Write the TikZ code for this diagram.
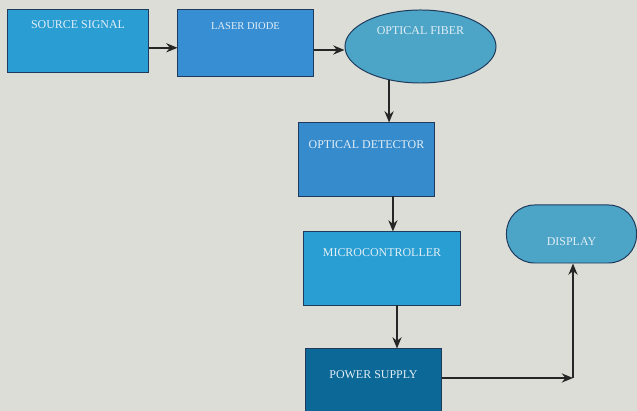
\documentclass[tikz,border=0pt]{standalone}
\usepackage{fontspec}
\setmainfont{Liberation Serif}
\usetikzlibrary{arrows.meta,calc,shapes.geometric}

\definecolor{paper}{RGB}{220,221,215}
\definecolor{edge}{RGB}{32,58,92}
\definecolor{srcblue}{RGB}{42,158,210}
\definecolor{lsrblue}{RGB}{56,142,210}
\definecolor{fibblue}{RGB}{76,165,198}
\definecolor{detblue}{RGB}{54,139,205}
\definecolor{mcublue}{RGB}{40,158,210}
\definecolor{pwrblue}{RGB}{12,104,150}
\definecolor{dspblue}{RGB}{76,164,198}
\definecolor{lbltext}{RGB}{226,238,246}
\definecolor{wire}{RGB}{38,38,38}

\tikzset{
  blk/.style={draw=edge, line width=0.7pt, inner sep=0pt, text=lbltext,
    font=\fontsize{8.5}{9}\selectfont},
  wireto/.style={draw=wire, line width=1.2pt, -{Stealth[length=8pt,width=6.5pt]}},
}

\begin{document}
\begin{tikzpicture}[x=0.025cm, y=-0.025cm]
                \fill [paper] (0,0) rectangle (637,411);%
                \clip (0,0) rectangle (637,411);%

                % Drawing block SOURCE SIGNAL
                \node [blk, fill=srcblue, rectangle, minimum width=3.5cm,
                  text height=0.475cm, text depth=1.075cm] (src) at (78,41) {SOURCE SIGNAL};%

                % Drawing block LASER DIODE
                \node [blk, fill=lsrblue, rectangle, minimum width=3.375cm,
                  text height=0.5cm, text depth=1.15cm,
                  font=\fontsize{7.5}{8}\selectfont] (lsr) at (245.5,43) {LASER DIODE};%

                % Drawing ellipse OPTICAL FIBER
                \node [blk, fill=fibblue, ellipse, minimum width=3.775cm, minimum height=1.825cm,
                  text height=0.2cm, text depth=0.775cm] (fib) at (420.5,46.5) {OPTICAL FIBER};%

                % Drawing block OPTICAL DETECTOR
                \node [blk, fill=detblue, rectangle, minimum width=3.375cm,
                  text height=0.65cm, text depth=1.175cm] (det) at (366.5,159.5) {OPTICAL DETECTOR};%

                % Drawing block MICROCONTROLLER
                \node [blk, fill=mcublue, rectangle, minimum width=3.9cm,
                  text height=0.625cm, text depth=1.2cm] (mcu) at (382,268.5) {MICROCONTROLLER};%

                % Drawing block POWER SUPPLY
                \node [blk, fill=pwrblue, rectangle, minimum width=3.375cm,
                  text height=0.75cm, text depth=1.025cm] (pwr) at (373.5,384.5) {POWER SUPPLY};%

                % Drawing block DISPLAY
                \node [blk, fill=dspblue, rectangle, rounded corners=0.7cm, minimum width=3.25cm,
                  text height=1.025cm, text depth=0.425cm] (dsp) at (571.5,234) {DISPLAY};%

                % Corner of the last connector
                \coordinate (crn) at (573,378);%

                % Drawing connectors
                \draw [wireto] ([yshift=-0.17cm]src.east) -- ([yshift=-0.17cm]src.east -| lsr.west);%
                \draw [wireto] ([yshift=-0.175cm]lsr.east) -- ([yshift=-0.175cm]lsr.east -| fib.west);%
                \draw [wireto] (fib.227) -- (fib.227 |- det.north);%
                \draw [wireto] ([xshift=0.66cm]det.south) -- ([xshift=0.66cm]det.south |- mcu.north);%
                \draw [wireto] ([xshift=0.375cm]mcu.south) -- ([xshift=0.375cm]mcu.south |- pwr.north);%
                \draw [wireto] (pwr.east |- crn) -- (crn);%
                \draw [wireto] (crn) -- (crn |- dsp.south);%
\end{tikzpicture}
\end{document}
